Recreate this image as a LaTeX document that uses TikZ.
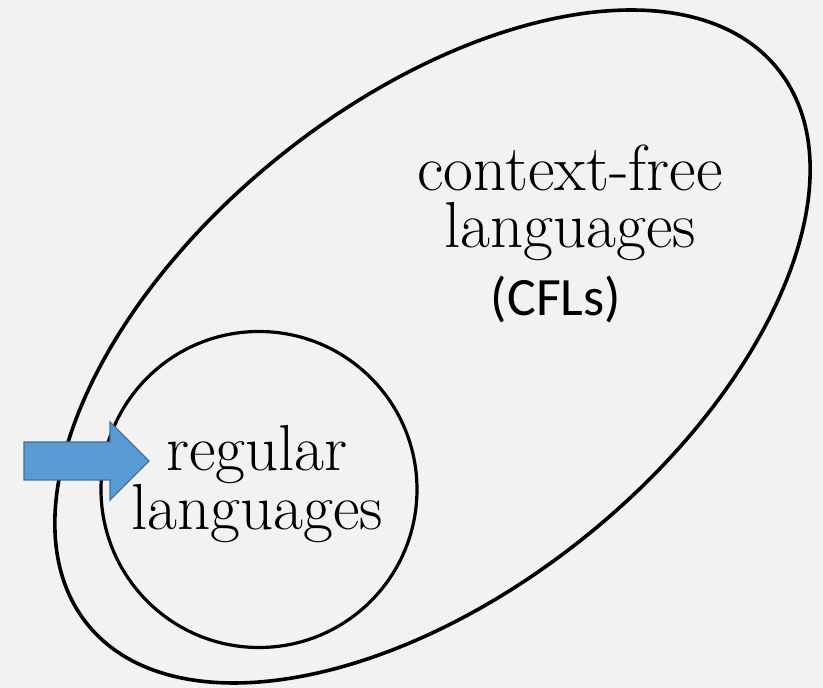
\documentclass[tikz,border=0pt]{standalone}
\usepackage{fontspec}
\newfontfamily\calib{Carlito}
\definecolor{bgray}{RGB}{242,242,242}
\definecolor{arrblue}{RGB}{91,155,213}
\definecolor{arrline}{RGB}{65,113,156}
\begin{document}
\begin{tikzpicture}[x=1pt,y=1pt]
			\fill [bgray] (0,0) rectangle (823,688);
			\useasboundingbox (0,0) rectangle (823,688);
			\tikzset{lang/.style={anchor=north,inner sep=0pt,align=center,font=\fontsize{65}{57}\selectfont}}
			%	outer set and inner set
			\draw [line width=3.6pt] (432.5,341.5) ellipse [x radius=443pt,y radius=244pt,rotate=38.8];
			\draw [line width=3.2pt] (259,198.5) circle [radius=158pt];
			%	labels
			\node [lang] (cfl) at (570,543.8) {context-free\\languages};
			\node [anchor=base,inner sep=0pt,font=\calib\fontsize{54}{56}\selectfont] (cfls) at (556,372) {(CFLs)};
			\node [lang] (reg) at (257,263.1) {regular\\languages};
			%	block arrow
			\draw [arrline,fill=arrblue,line width=1.3pt,line join=miter]
				(24,246)--(110,246)--(110,266)--(149,227)--(110,188)--(110,208)--(24,208)--cycle;
		\end{tikzpicture}
\end{document}
